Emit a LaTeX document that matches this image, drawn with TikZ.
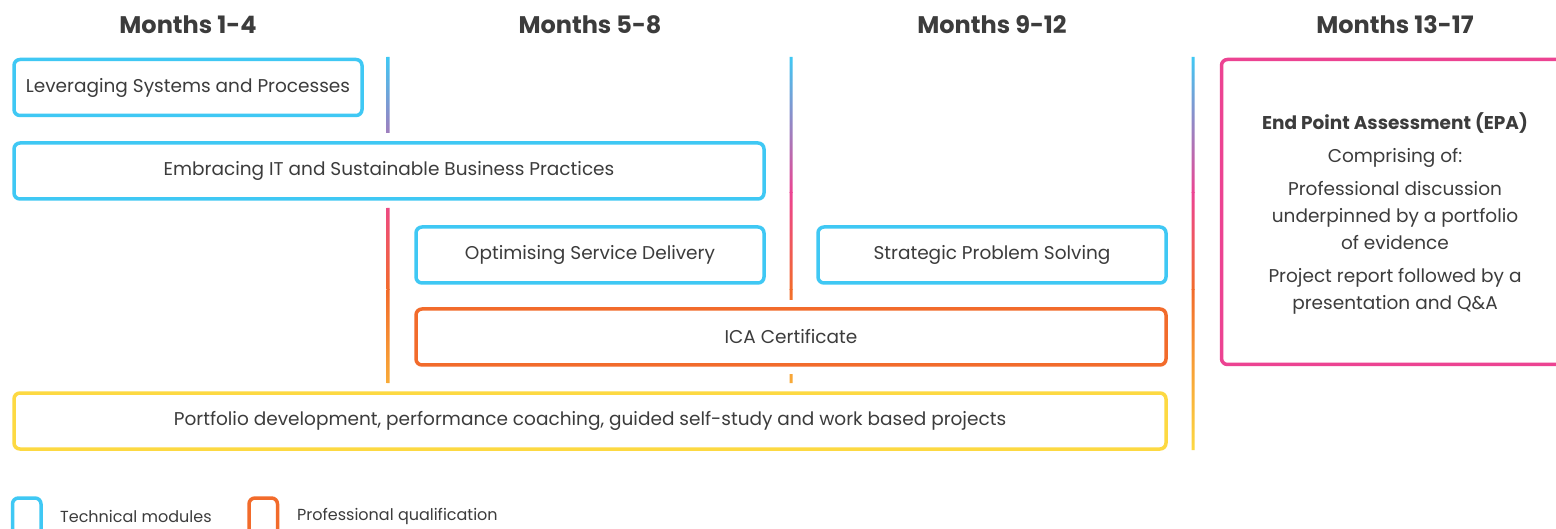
\documentclass[tikz,border=0pt]{standalone}
\usepackage{fontspec}
\setmainfont{Poppins}
\definecolor{cy}{HTML}{3FC8F4}
\definecolor{pk}{HTML}{EC4392}
\definecolor{og}{HTML}{F26B2B}
\definecolor{yl}{HTML}{FDD942}
\definecolor{tx}{HTML}{3C3C3C}
\tikzset{
  box/.style={draw, line width=3.5pt, rounded corners=6pt, fill=white, text=tx,
    font=\fontsize{18.5}{22}\selectfont, inner sep=0pt},
  tbox/.style={box, draw=cy},
  obox/.style={box, draw=og},
  ybox/.style={box, draw=yl},
  head/.style={text=tx, font=\fontsize{24}{28}\selectfont\bfseries},
  lbl/.style={text=tx, font=\fontsize{16}{19}\selectfont, anchor=west, inner sep=0pt},
}
\begin{document}
\begin{tikzpicture}[x=1pt, y=-1pt]
\useasboundingbox (0,0) rectangle (1556,529);
\clip (0,0) rectangle (1556,529);
\fill[white] (0,0) rectangle (1556,529);
% headers
\node[head] (h1) at (188,25) {Months 1-4};
\node[head] (h2) at (590,25) {Months 5-8};
\node[head] (h3) at (992,25) {Months 9-12};
\node[head] (h4) at (1395,25) {Months 13-17};
% gradient separators
\begin{scope}
\clip (386.5,57) rectangle (389.5,133) (386.5,208) rectangle (389.5,383)
      (789.5,57) rectangle (792.5,300) (789.5,374) rectangle (792.5,383)
      (1191.5,57) rectangle (1194.5,450);
\shade[top color=cy, bottom color=pk] (380,57) rectangle (1200,193);
\shade[top color=pk, bottom color=og] (380,193) rectangle (1200,290);
\shade[top color=og, bottom color=yl] (380,290) rectangle (1200,450);
\end{scope}
% boxes
\node[tbox, minimum width=348, minimum height=56] (lev) at (188,87.5) {Leveraging Systems and Processes};
\node[tbox, minimum width=750, minimum height=56] (emb) at (389,171) {Embracing IT and Sustainable Business Practices};
\node[tbox, minimum width=348, minimum height=56] (opt) at (590,255) {Optimising Service Delivery};
\node[tbox, minimum width=348, minimum height=56] (str) at (992,255) {Strategic Problem Solving};
\node[obox, minimum width=750, minimum height=56] (ica) at (791,337) {ICA Certificate};
\node[ybox, minimum width=1152, minimum height=56] (por) at (590,421) {Portfolio development, performance coaching, guided self-study and work based projects};
% EPA
\draw[pk, line width=3.5pt, rounded corners=6pt] (1221.5,59.5) rectangle (1600,364.5);
\node[text=tx, font=\fontsize{18.5}{27}\selectfont, align=center] (epa) at (1395,213)
  {{\bfseries End Point Assessment (EPA)}\\[6pt]
   Comprising of:\\[6pt]
   Professional discussion\\ underpinned by a portfolio\\ of evidence\\[6pt]
   Project report followed by a\\ presentation and Q\&A};
% legend
\draw[cy, line width=3.5pt, rounded corners=6pt] (12.5,498) rectangle (41,540);
\draw[og, line width=3.5pt, rounded corners=6pt] (249,498) rectangle (277.5,540);
\node[lbl] (l1) at (60,516) {Technical modules};
\node[lbl] (l2) at (297,516) {Professional qualification};
\end{tikzpicture}
\end{document}
